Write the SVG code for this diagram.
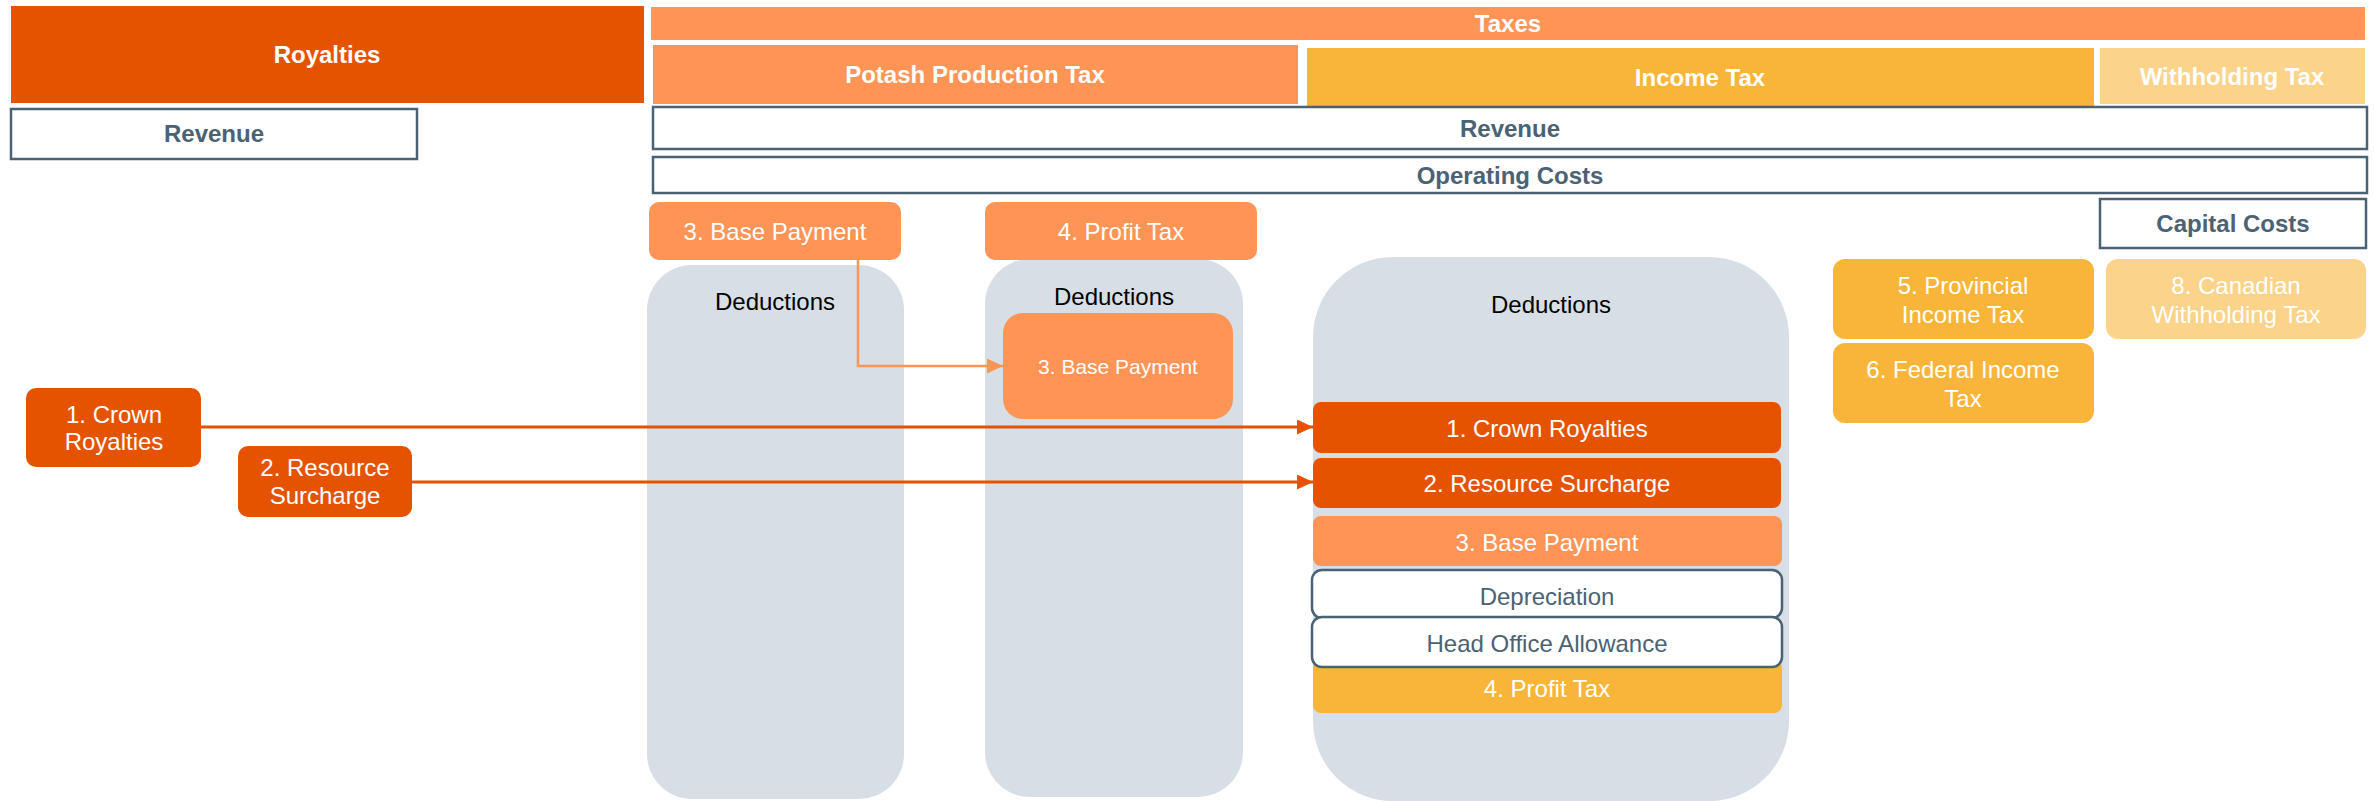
<svg xmlns="http://www.w3.org/2000/svg" width="2374" height="802" viewBox="0 0 2374 802">
<style>
.b{font-family:"Liberation Sans",Arial,sans-serif;font-weight:bold;font-size:24px;text-anchor:middle}
.r{font-family:"Liberation Sans",Arial,sans-serif;font-size:24px;text-anchor:middle}
.sm{font-size:21px}
.w{fill:#ffffff}
.s{fill:#4a6273}
.k{fill:#000000}
.box{fill:#ffffff;stroke:#4a6273;stroke-width:2.5}
.dk{fill:#e55300}
.lt{fill:#ff9457}
.yl{fill:#f9b539}
.pl{fill:#fbd38a}
.col{fill:#d7dee5}
</style>
<defs>
<marker id="ad" markerWidth="16" markerHeight="15" refX="16" refY="7.5" orient="auto" markerUnits="userSpaceOnUse"><path d="M0,0 L16,7.5 L0,15 Z" fill="#e55300"/></marker>
<marker id="al" markerWidth="16" markerHeight="15" refX="16" refY="7.5" orient="auto" markerUnits="userSpaceOnUse"><path d="M0,0 L16,7.5 L0,15 Z" fill="#ff9457"/></marker>
</defs>
<rect width="2374" height="802" fill="#ffffff"/>

<g id="royalties"><rect class="dk" x="11" y="6" width="633" height="97"/><text class="b w" x="327" y="63">Royalties</text></g>
<g id="revenue-left"><rect class="box" x="11" y="109" width="406" height="50"/><text class="b s" x="214" y="142">Revenue</text></g>
<g id="taxes"><rect class="lt" x="651" y="7" width="1714" height="33"/><text class="b w" x="1508" y="32">Taxes</text></g>
<g id="potash"><rect class="lt" x="653" y="45" width="645" height="59"/><text class="b w" x="975" y="83">Potash Production Tax</text></g>
<g id="income"><rect class="yl" x="1307" y="48" width="787" height="58"/><text class="b w" x="1700" y="86">Income Tax</text></g>
<g id="withholding"><rect class="pl" x="2100" y="48" width="265" height="56"/><text class="b w" x="2232" y="85">Withholding Tax</text></g>
<g id="revenue"><rect class="box" x="653" y="107" width="1714" height="42"/><text class="b s" x="1510" y="137">Revenue</text></g>
<g id="opcosts"><rect class="box" x="653" y="157" width="1714" height="36"/><text class="b s" x="1510" y="184">Operating Costs</text></g>
<g id="capcosts"><rect class="box" x="2100" y="199" width="266" height="49"/><text class="b s" x="2233" y="232">Capital Costs</text></g>

<g id="col1"><rect class="col" x="647" y="265" width="257" height="534" rx="45" ry="45"/><text class="r k" x="775" y="310">Deductions</text></g>
<g id="col2"><rect class="col" x="985" y="259" width="258" height="538" rx="45" ry="45"/><text class="r k" x="1114" y="305">Deductions</text></g>
<g id="col3"><rect class="col" x="1313" y="257" width="476" height="544" rx="80" ry="80"/><text class="r k" x="1551" y="313">Deductions</text></g>

<g id="base-top"><rect class="lt" x="649" y="202" width="252" height="58" rx="10"/><text class="r w" x="775" y="240">3. Base Payment</text></g>
<g id="profit-top"><rect class="lt" x="985" y="202" width="272" height="58" rx="10"/><text class="r w" x="1121" y="240">4. Profit Tax</text></g>
<g id="base-inner"><rect class="lt" x="1003" y="313" width="230" height="106" rx="20"/><text class="r sm w" x="1118" y="374">3. Base Payment</text></g>

<g id="crown"><rect class="dk" x="26" y="388" width="175" height="79" rx="10"/><text class="r w" x="114" y="423">1. Crown</text><text class="r w" x="114" y="450">Royalties</text></g>
<g id="surcharge"><rect class="dk" x="238" y="446" width="174" height="71" rx="10"/><text class="r w" x="325" y="476">2. Resource</text><text class="r w" x="325" y="504">Surcharge</text></g>

<g id="bar-crown"><rect class="dk" x="1313" y="402" width="468" height="51" rx="8"/><text class="r w" x="1547" y="437">1. Crown Royalties</text></g>
<g id="bar-surcharge"><rect class="dk" x="1313" y="458" width="468" height="50" rx="8"/><text class="r w" x="1547" y="492">2. Resource Surcharge</text></g>
<g id="bar-base"><rect class="lt" x="1313" y="516" width="469" height="50" rx="8"/><text class="r w" x="1547" y="551">3. Base Payment</text></g>
<g id="bar-profit"><rect class="yl" x="1313" y="660" width="469" height="53" rx="8"/><text class="r w" x="1547" y="697">4. Profit Tax</text></g>
<g id="bar-depr"><rect class="box" x="1312" y="570" width="470" height="48" rx="10"/><text class="r s" x="1547" y="605">Depreciation</text></g>
<g id="bar-hoa"><rect class="box" x="1312" y="617" width="470" height="50" rx="10"/><text class="r s" x="1547" y="652">Head Office Allowance</text></g>

<g id="provincial"><rect class="yl" x="1833" y="259" width="261" height="80" rx="12"/><text class="r w" x="1963" y="294">5. Provincial</text><text class="r w" x="1963" y="323">Income Tax</text></g>
<g id="canadian"><rect class="pl" x="2106" y="259" width="260" height="80" rx="12"/><text class="r w" x="2236" y="294">8. Canadian</text><text class="r w" x="2236" y="323">Withholding Tax</text></g>
<g id="federal"><rect class="yl" x="1833" y="343" width="261" height="80" rx="12"/><text class="r w" x="1963" y="378">6. Federal Income</text><text class="r w" x="1963" y="407">Tax</text></g>

<g id="connectors" fill="none">
<path d="M201,427 L1313,427" stroke="#e55300" stroke-width="3" marker-end="url(#ad)"/>
<path d="M412,482 L1313,482" stroke="#e55300" stroke-width="3" marker-end="url(#ad)"/>
<path d="M858,260 L858,366 L1003,366" stroke="#ff9457" stroke-width="2.5" marker-end="url(#al)"/>
</g>
</svg>
